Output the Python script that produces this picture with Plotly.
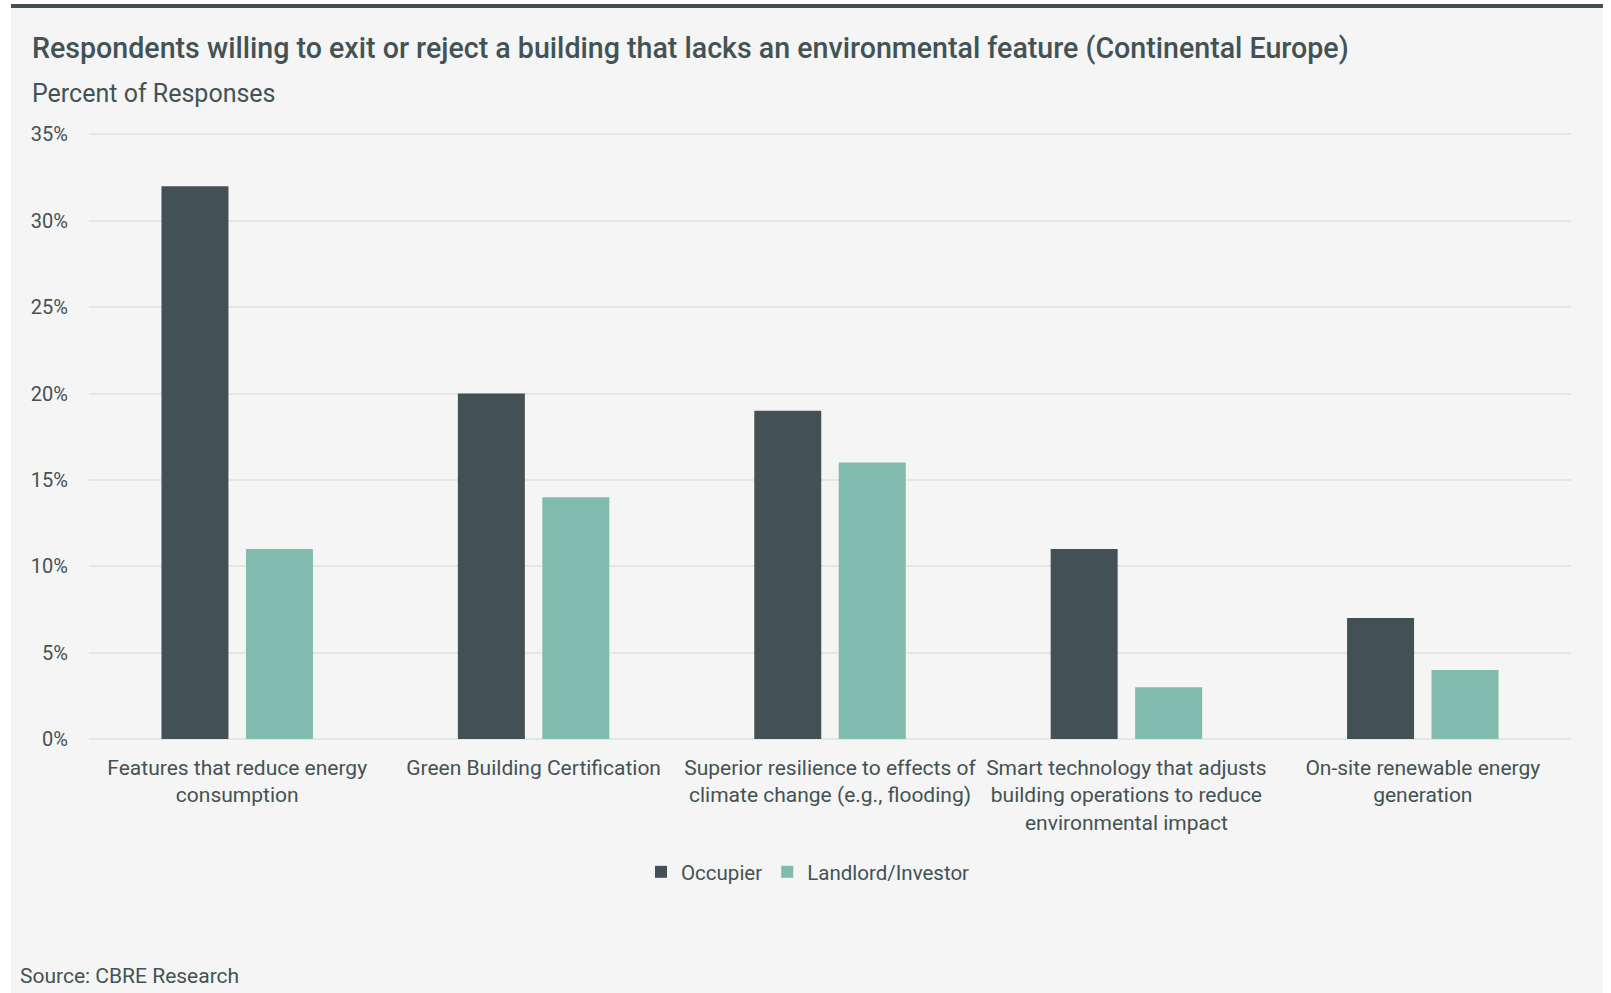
import plotly.graph_objects as go

# Survey categories and shares of responses (%)
categories = [
    "Features that reduce energy<br>consumption",
    "Green Building Certification",
    "Superior resilience to effects of<br>climate change (e.g., flooding)",
    "Smart technology that adjusts<br>building operations to reduce<br>environmental impact",
    "On-site renewable energy<br>generation",
]
occupier = [32, 20, 19, 11, 7]
landlord_investor = [11, 14, 16, 3, 4]
y_ticks = [0, 5, 10, 15, 20, 25, 30, 35]
y_tick_labels = [f"{v}%" for v in y_ticks]

W, H = 1611, 993
L, R, T, B = 89, 1571, 133, 739  # plot area in pixels

def px(x):
    return (x - L) / (R - L)

def py(y):
    return (B - y) / (B - T)

DARK = "#435156"
TEAL = "#80bbad"
TEXT = "#435254"
FONT = "Roboto, Inter, sans-serif"

fig = go.Figure()
fig.add_trace(go.Bar(x=categories, y=occupier, name="Occupier", marker_color=DARK,
                     marker_line_width=0))
fig.add_trace(go.Bar(x=categories, y=landlord_investor, name="Landlord/Investor",
                     marker_color=TEAL, marker_line_width=0))

fig.update_layout(
    width=W, height=H,
    margin=dict(l=L, r=W - R, t=T, b=H - B, pad=0),
    paper_bgcolor="white",
    plot_bgcolor="#f5f5f5",
    barmode="group",
    bargap=0.43,
    bargroupgap=0.207,
    font=dict(family=FONT, color=TEXT, size=20),
    showlegend=True,
    legend=dict(orientation="h", x=px(808), xanchor="center", y=py(872), yanchor="middle",
                font=dict(size=20.5, color=TEXT), bgcolor="rgba(0,0,0,0)",
                itemwidth=30, tracegroupgap=0),
    xaxis=dict(showgrid=False, showline=False, zeroline=False,
               tickfont=dict(size=21, color=TEXT), ticks="", ticklabelstandoff=14,
               fixedrange=True),
    yaxis=dict(range=[0, 35.08], tickmode="array", tickvals=y_ticks, ticktext=y_tick_labels,
               showgrid=True, gridcolor="#e2e7e6", gridwidth=2, zeroline=True,
               zerolinecolor="#e2e7e6", zerolinewidth=2, showline=False, ticks="",
               ticklabelstandoff=20, tickfont=dict(size=20, color=TEXT), fixedrange=True),
    shapes=[
        # light panel behind the whole chart
        dict(type="rect", xref="paper", yref="paper", x0=px(11), x1=px(1603),
             y0=py(993), y1=py(5), fillcolor="#f5f5f5", line_width=0, layer="below"),
        # dark rule across the top of the panel
        dict(type="rect", xref="paper", yref="paper", x0=px(11), x1=px(1603),
             y0=py(8), y1=py(4), fillcolor=DARK, line_width=0, layer="above"),
    ],
    annotations=[
        dict(text="Respondents willing to exit or reject a building that lacks an environmental feature (Continental Europe)",
             xref="paper", yref="paper", x=px(30), y=py(48), xanchor="left", yanchor="middle",
             showarrow=False, font=dict(size=28.6, color=TEXT, family=FONT, weight=500)),
        dict(text="Percent of Responses", xref="paper", yref="paper", x=px(30), y=py(94),
             xanchor="left", yanchor="middle", showarrow=False,
             font=dict(size=25, color=TEXT, family=FONT)),
        dict(text="Source: CBRE Research", xref="paper", yref="paper", x=px(18), y=py(976),
             xanchor="left", yanchor="middle", showarrow=False,
             font=dict(size=21, color=TEXT, family=FONT)),
    ],
)

fig.write_html("out.html")
